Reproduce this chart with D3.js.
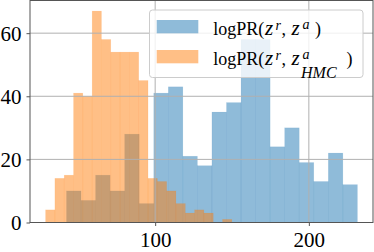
<!DOCTYPE html>
<html>
<head>
<meta charset="utf-8">
<script src="https://cdn.jsdelivr.net/npm/d3@7"></script>
<style>
  body { margin: 0; background: #fff; }
  svg text { font-family: "Liberation Serif", "DejaVu Serif", serif; fill: #000; }
</style>
</head>
<body>
<div id="chart"></div>
<script>
var W = 374, H = 252
var plot = {left: 30, right: 373, top: 0.5, bottom: 222.5}

// DATA: two histograms of 20 bins each
const blueRange = [42.3, 231.6]
const blueCounts = [10, 7, 15, 10, 28, 6, 41, 43, 21, 18, 35, 38, 58, 58, 24, 30, 19, 13, 22, 12]
const orangeRange = [28.7, 149.9]
const orangeCounts = [4, 14, 15, 41, 40, 67, 58, 54, 54, 54, 45, 14, 13, 10, 6, 3, 4, 3, 0, 1]
const xTicks = [100, 200]
const yTicks = [0, 20, 40, 60]

// COLORS
const blue = '#1f77b4'
const orange = '#ff7f0e'
const gridColor = '#b0b0b0'
const spineColor = '#555'

function bins(range, counts) {
  var w = (range[1] - range[0]) / counts.length
  return counts.map(function(c, i) {
    return {x0: range[0] + i * w, x1: range[0] + (i + 1) * w, n: c}
  })
}

var allLo = Math.min(blueRange[0], orangeRange[0]), allHi = Math.max(blueRange[1], orangeRange[1])
var pad = (allHi - allLo) * 0.05
var yMax = d3.max(orangeCounts.concat(blueCounts)) * 1.05

var x = d3.scaleLinear().domain([allLo - pad, allHi + pad]).range([plot.left, plot.right])
var y = d3.scaleLinear().domain([0, yMax]).range([plot.bottom, plot.top])

var svg = d3.select('#chart').append('svg')
    .attr('width', W)
    .attr('height', H)

// bars
function drawHist(data, color) {
  svg.append('g').selectAll('rect')
    .data(data.filter(function(d) { return d.n > 0 }))
    .enter().append('rect')
      .attr('x', function(d) { return x(d.x0) })
      .attr('width', function(d) { return x(d.x1) - x(d.x0) })
      .attr('y', function(d) { return y(d.n) })
      .attr('height', function(d) { return y(0) - y(d.n) })
      .attr('fill', color)
      .attr('fill-opacity', 0.5)
      .attr('stroke', color)
      .attr('stroke-opacity', 0.12)
      .attr('stroke-width', 0.6)
}
drawHist(bins(blueRange, blueCounts), blue)
drawHist(bins(orangeRange, orangeCounts), orange)

// grid
var grid = svg.append('g')
grid.selectAll('.gx').data(xTicks).enter().append('line')
    .attr('x1', function(d) { return x(d) }).attr('x2', function(d) { return x(d) })
    .attr('y1', plot.top).attr('y2', plot.bottom)
    .attr('stroke', gridColor).attr('stroke-width', 1)
grid.selectAll('.gy').data(yTicks).enter().append('line')
    .attr('x1', plot.left).attr('x2', plot.right)
    .attr('y1', function(d) { return y(d) }).attr('y2', function(d) { return y(d) })
    .attr('stroke', gridColor).attr('stroke-width', 1)

// axes
var xAxis = svg.append('g')
    .attr('transform', 'translate(0,' + plot.bottom + ')')
    .call(d3.axisBottom(x).tickValues(xTicks).tickSize(3.5).tickPadding(6).tickFormat(d3.format('d')))
var yAxis = svg.append('g')
    .attr('transform', 'translate(' + plot.left + ',0)')
    .call(d3.axisLeft(y).tickValues(yTicks).tickSize(3.5).tickPadding(5).tickFormat(d3.format('d')))
;[xAxis, yAxis].forEach(function(a) {
  a.select('.domain').remove()
  a.selectAll('line').attr('stroke', spineColor)
  a.selectAll('text').attr('font-size', 21).attr('font-family', '"Liberation Serif", serif').attr('fill', '#000')
})
yAxis.selectAll('text').attr('dy', '0.34em')
xAxis.selectAll('text').attr('dy', '0.72em')

// frame
svg.append('rect')
    .attr('x', plot.left).attr('y', plot.top)
    .attr('width', plot.right - plot.left).attr('height', plot.bottom - plot.top)
    .attr('fill', 'none').attr('stroke', spineColor).attr('stroke-width', 1)

// legend
var legend = svg.append('g')
legend.append('rect')
    .attr('x', 149.5).attr('y', 10).attr('width', 213.5).attr('height', 67.5).attr('rx', 3)
    .attr('fill', '#fff').attr('fill-opacity', 0.8)
    .attr('stroke', '#ccc').attr('stroke-width', 1)

var items = [
  {color: blue, sub: null, base: 35, close: 315},
  {color: orange, sub: 'HMC', base: 65, close: 346.5}
]
items.forEach(function(it) {
  legend.append('rect')
      .attr('x', 156.7).attr('y', it.base - 15).attr('width', 41.6).attr('height', 13.3)
      .attr('fill', it.color).attr('fill-opacity', 0.5)
  var b = it.base
  function part(txt, xPos, yPos, size, italic) {
    legend.append('text')
        .attr('x', xPos).attr('y', yPos)
        .attr('font-size', size)
        .attr('font-style', italic ? 'italic' : 'normal')
        .text(txt)
  }
  part('logPR(', 213.3, b, 18, false)
  part('z', 265, b, 21, true)
  part('r', 275.5, b - 5.5, 14, true)
  part(',', 281.5, b, 18, false)
  part('z', 291.5, b, 21, true)
  part('a', 302.5, b - 6, 14, true)
  if (it.sub) part(it.sub, 301, b + 12.5, 16, true)
  part(')', it.close, b, 18, false)
})
</script>
</body>
</html>
